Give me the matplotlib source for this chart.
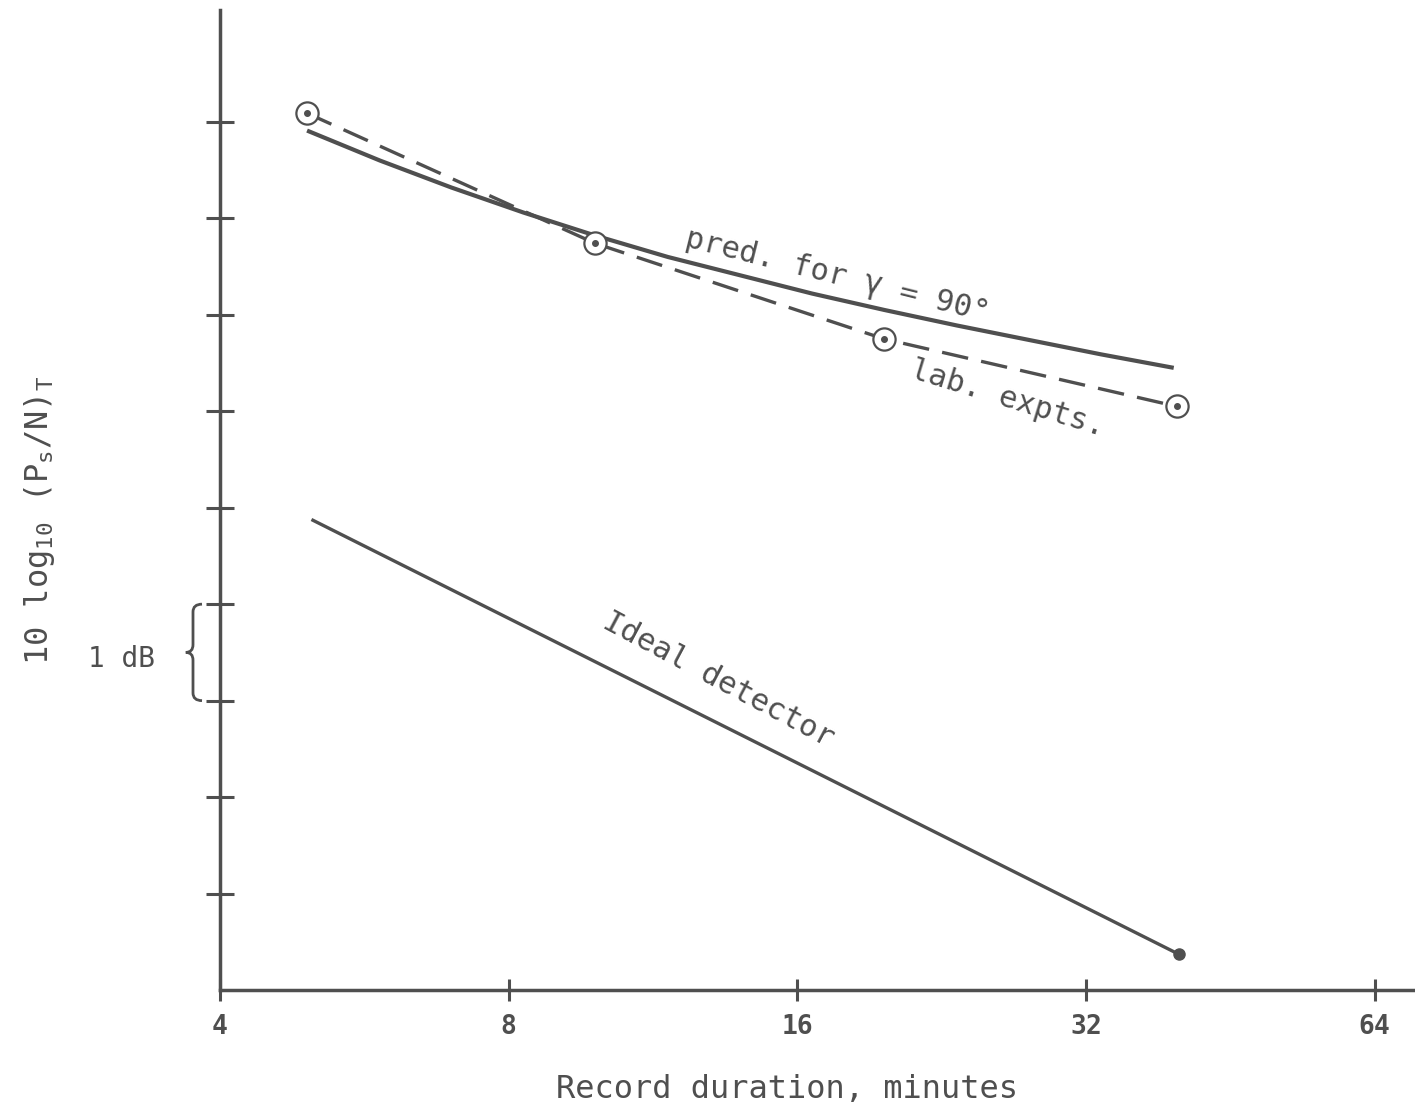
import matplotlib
matplotlib.use("Agg")
import matplotlib.pyplot as plt
from matplotlib.path import Path
from matplotlib.patches import PathPatch
import matplotlib.transforms as mtransforms

# ---- data ----
lab_x = [4.93, 9.85, 19.7, 39.8]
lab_y = [9.09, 7.74, 6.75, 6.05]

pred_x = [4.93, 5.87, 6.97, 8.29, 9.86, 11.72, 13.94, 16.58, 19.72, 23.45, 27.88, 33.17, 39.5]
pred_y = [8.91, 8.60, 8.32, 8.06, 7.82, 7.60, 7.41, 7.22, 7.05, 6.89, 6.74, 6.59, 6.45]

ideal_x = [5.0, 40.0]
ideal_y = [4.87, 0.37]

xticks = [4, 8, 16, 32, 64]
xtick_labels = ["4", "8", "16", "32", "64"]
yticks = [1, 2, 3, 4, 5, 6, 7, 8, 9]

C = "#4f4f4f"
MONO = "DejaVu Sans Mono"
plt.rcParams['mathtext.fontset'] = 'dejavusans'

fig = plt.figure(figsize=(14.15, 11.12), dpi=100)
ax = fig.add_axes([220/1415, 122/1112, 1195/1415, 980/1112])
ax.set_xscale('log', base=2)
ax.set_xlim(4, 70.5)
ax.set_ylim(0, 10.16)

for s in ['top', 'right']:
    ax.spines[s].set_visible(False)
for s in ['left', 'bottom']:
    ax.spines[s].set_color(C)
    ax.spines[s].set_linewidth(2.5)

ax.set_xticks(xticks)
ax.set_xticklabels(xtick_labels)
ax.xaxis.set_minor_locator(matplotlib.ticker.NullLocator())
ax.set_yticks(yticks)
ax.set_yticklabels([])
ax.tick_params(axis='x', direction='inout', length=16, width=2.2, color=C,
               labelsize=19, labelcolor=C, pad=9)
ax.tick_params(axis='y', direction='inout', length=20, width=2.2, color=C)
for lab in ax.get_xticklabels():
    lab.set_fontfamily(MONO)
    lab.set_fontweight('bold')

# predicted curve
ax.plot(pred_x, pred_y, color=C, lw=3.0, solid_capstyle='butt', zorder=3)
# lab experiments
ax.plot(lab_x, lab_y, color=C, lw=2.4, dashes=(8, 4), zorder=2)
ax.plot(lab_x, lab_y, ls='none', marker='o', ms=16, mfc='white', mec=C, mew=1.6, zorder=4)
ax.plot(lab_x, lab_y, ls='none', marker='o', ms=4, mfc=C, mec=C, zorder=5)
# ideal detector
ax.plot(ideal_x, ideal_y, color=C, lw=2.4, zorder=3)
ax.plot(ideal_x[-1:], ideal_y[-1:], ls='none', marker='o', ms=8, color=C, zorder=4)

# annotations
ax.text(17.6, 7.40, "pred. for \u03b3 = 90\u00b0", rotation=-14, rotation_mode='anchor',
        ha='center', va='center', fontsize=22, color=C, family=MONO)
ax.text(26.5, 6.13, "lab. expts.", rotation=-17, rotation_mode='anchor',
        ha='center', va='center', fontsize=22, color=C, family=MONO)
ax.text(13.25, 3.21, "Ideal detector", rotation=-28, rotation_mode='anchor',
        ha='center', va='center', fontsize=22, color=C, family=MONO)

# brace "1 dB"
tr = mtransforms.blended_transform_factory(ax.transAxes, ax.transData)
xa = -27/1195
w = 9/1195
y0, y1 = 3.0, 4.0
ym = 0.5*(y0+y1)
codes = [Path.MOVETO, Path.CURVE3, Path.CURVE3, Path.LINETO,
         Path.CURVE3, Path.CURVE3, Path.MOVETO,
         Path.CURVE3, Path.CURVE3, Path.LINETO,
         Path.CURVE3, Path.CURVE3, Path.LINETO]
verts = [(xa+w, y1), (xa, y1), (xa, y1-0.08), (xa, ym+0.08),
         (xa, ym), (xa-w*0.8, ym), (xa-w*0.8, ym),
         (xa, ym), (xa, ym-0.08), (xa, y0+0.08),
         (xa, y0), (xa+w, y0), (xa+w, y0)]
brace = PathPatch(Path(verts, codes), transform=tr, fill=False, ec=C, lw=2.0, clip_on=False)
ax.add_patch(brace)
ax.text(-98/1195, ym - 0.07, "1 dB", transform=tr, ha='center', va='center',
        fontsize=20, color=C, family=MONO)

# axis labels
fig.text(787/1415, 1-1090/1112, "Record duration, minutes", ha='center', va='center',
         fontsize=23, color=C, family=MONO)
fig.text(40/1415, 1-520/1112,
         r"10 log$_{\mathtt{10}}$ (P$_{\mathtt{s}}$/N)$_{\mathtt{T}}$",
         rotation=90, ha='center', va='center', fontsize=23, color=C, family=MONO)

fig.savefig("out.png", dpi=100)
